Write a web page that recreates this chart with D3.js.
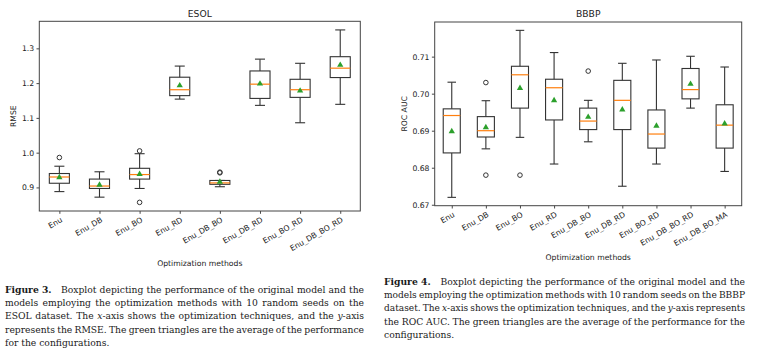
<!DOCTYPE html>
<html><head><meta charset="utf-8">
<script src="https://cdn.jsdelivr.net/npm/d3@7"></script>
<style>body{margin:0;background:#fff}svg{display:block}</style>
</head><body>
<svg id="c" width="758" height="348"></svg>
<script>
// ---------- ESOL data ----------
const esolCategories = ["Enu","Enu_DB","Enu_BO","Enu_RD","Enu_DB_BO","Enu_DB_RD","Enu_BO_RD","Enu_DB_BO_RD"];
const esolWhiskerLow  = [0.888, 0.872, 0.897, 1.154, 0.902, 1.136, 1.086, 1.139];
const esolQ1          = [0.912, 0.897, 0.924, 1.164, 0.909, 1.156, 1.159, 1.216];
const esolMedian      = [0.930, 0.904, 0.937, 1.181, 0.913, 1.197, 1.181, 1.243];
const esolQ3          = [0.940, 0.924, 0.955, 1.217, 0.920, 1.235, 1.211, 1.276];
const esolWhiskerHigh = [0.961, 0.945, 0.997, 1.249, 0.920, 1.269, 1.257, 1.353];
const esolMean        = [0.929, 0.907, 0.938, 1.193, 0.916, 1.198, 1.178, 1.252];
const esolOutliers    = [[0.986], [], [1.005, 0.857], [], [0.942, 0.944], [], [], []];
const esolTicks = [0.9, 1.0, 1.1, 1.2, 1.3];

// ---------- BBBP data ----------
const bbbpCategories = ["Enu","Enu_DB","Enu_BO","Enu_RD","Enu_DB_BO","Enu_DB_RD","Enu_BO_RD","Enu_DB_BO_RD","Enu_DB_BO_MA"];
const bbbpWhiskerLow  = [0.6720, 0.6851, 0.6882, 0.6810, 0.6870, 0.6750, 0.6810, 0.6961, 0.6790];
const bbbpQ1          = [0.6840, 0.6883, 0.6961, 0.6929, 0.6903, 0.6903, 0.6853, 0.6986, 0.6853];
const bbbpMedian      = [0.6941, 0.6900, 0.7051, 0.7016, 0.6926, 0.6982, 0.6891, 0.7011, 0.6915];
const bbbpQ3          = [0.6959, 0.6938, 0.7074, 0.7039, 0.6961, 0.7036, 0.6956, 0.7068, 0.6970];
const bbbpWhiskerHigh = [0.7031, 0.6981, 0.7171, 0.7111, 0.6982, 0.7082, 0.7091, 0.7101, 0.7072];
const bbbpMean        = [0.6898, 0.6909, 0.7015, 0.6982, 0.6937, 0.6957, 0.6913, 0.7026, 0.6919];
const bbbpOutliers    = [[], [0.703, 0.678], [0.678], [], [0.7061], [], [], [], []];
const bbbpTicks = [0.67, 0.68, 0.69, 0.70, 0.71];

// ---------- captions ----------
const caption3 = [
  [["Figure 3.", "b"], ["   Boxplot depicting the performance of the original model and the"]],
  [["models employing the optimization methods with 10 random seeds on the"]],
  [["ESOL dataset. The "], ["x", "i"], ["-axis shows the optimization techniques, and the "], ["y", "i"], ["-axis"]],
  [["represents the RMSE. The green triangles are the average of the performance"]],
  [["for the configurations."]]
];
const caption4 = [
  [["Figure 4.", "b"], ["   Boxplot depicting the performance of the original model and the"]],
  [["models employing the optimization methods with 10 random seeds on the BBBP"]],
  [["dataset. The "], ["x", "i"], ["-axis shows the optimization techniques, and the "], ["y", "i"], ["-axis represents"]],
  [["the ROC AUC. The green triangles are the average of the performance for the"]],
  [["configurations."]]
];

const svg = d3.select("#c");
const SANS = "'DejaVu Sans', sans-serif";
const LINE = "#333";

function drawChart(o) {
  const n = o.cats.length;
  const g = svg.append("g");
  const x = d3.scaleLinear().domain([0.5, n + 0.5]).range([o.x0, o.x1]);
  const all = [...o.lo, ...o.hi, ...o.outliers.flat()];
  const mn = d3.min(all), mx = d3.max(all), pad = (mx - mn) * 0.05;
  const y = d3.scaleLinear().domain([mn - pad, mx + pad]).range([o.y1, o.y0]);
  const bw = x(1.25) - x(0.75);
  const cw = bw / 2;

  const ya = g.append("g").attr("transform", `translate(${o.x0},0)`)
    .call(d3.axisLeft(y).tickValues(o.ticks).tickSize(2.8).tickPadding(2.4).tickFormat(o.fmt));
  ya.select(".domain").remove();
  ya.selectAll("line").attr("stroke", LINE).attr("stroke-width", 0.9);
  ya.selectAll("text").attr("font-family", SANS).attr("font-size", 7.7).attr("fill", "#222");

  const xa = g.append("g").attr("transform", `translate(0,${o.y1})`)
    .call(d3.axisBottom(x).tickValues(d3.range(1, n + 1)).tickSize(2.8).tickFormat(i => o.cats[i - 1]));
  xa.select(".domain").remove();
  xa.selectAll("line").attr("stroke", LINE).attr("stroke-width", 0.9);
  xa.selectAll("text").attr("font-family", SANS).attr("font-size", 7.7).attr("fill", "#222")
    .attr("text-anchor", "end").attr("x", 0).attr("y", 0).attr("dy", "0.78em")
    .attr("transform", "translate(0,5.2) rotate(-30)");

  const idx = d3.range(n);
  const bx = g.append("g").attr("fill", "none").attr("stroke", LINE).attr("stroke-width", 1.1);
  bx.selectAll(".wl").data(idx).join("line")
    .attr("x1", i => x(i + 1)).attr("x2", i => x(i + 1))
    .attr("y1", i => y(o.lo[i])).attr("y2", i => y(o.q1[i]));
  bx.selectAll(".wh").data(idx).join("line")
    .attr("x1", i => x(i + 1)).attr("x2", i => x(i + 1))
    .attr("y1", i => y(o.hi[i])).attr("y2", i => y(o.q3[i]));
  [o.lo, o.hi].forEach(arr => {
    bx.append("g").selectAll("line").data(idx).join("line")
      .attr("x1", i => x(i + 1) - cw / 2).attr("x2", i => x(i + 1) + cw / 2)
      .attr("y1", i => y(arr[i])).attr("y2", i => y(arr[i]));
  });
  bx.append("g").selectAll("rect").data(idx).join("rect")
    .attr("x", i => x(i + 1) - bw / 2).attr("width", bw)
    .attr("y", i => y(o.q3[i])).attr("height", i => Math.max(0.5, y(o.q1[i]) - y(o.q3[i])));
  g.append("g").selectAll("line").data(idx).join("line")
    .attr("x1", i => x(i + 1) - bw / 2).attr("x2", i => x(i + 1) + bw / 2)
    .attr("y1", i => y(o.med[i])).attr("y2", i => y(o.med[i]))
    .attr("stroke", "#ff7f0e").attr("stroke-width", 1.2);
  const fl = idx.flatMap(i => o.outliers[i].map(v => ({ i, v })));
  g.append("g").selectAll("circle").data(fl).join("circle")
    .attr("cx", d => x(d.i + 1)).attr("cy", d => y(d.v)).attr("r", 2.3)
    .attr("fill", "none").attr("stroke", LINE).attr("stroke-width", 1);
  const tri = d3.symbol().type(d3.symbolTriangle).size(17);
  g.append("g").selectAll("path").data(idx).join("path")
    .attr("d", tri).attr("transform", i => `translate(${x(i + 1)},${y(o.mean[i])})`)
    .attr("fill", "#2ca02c");

  g.append("rect").attr("x", o.x0).attr("y", o.y0).attr("width", o.x1 - o.x0).attr("height", o.y1 - o.y0)
    .attr("fill", "none").attr("stroke", "#444").attr("stroke-width", 1);

  const cx = (o.x0 + o.x1) / 2;
  g.append("text").attr("x", cx).attr("y", o.titleY).attr("text-anchor", "middle")
    .attr("font-family", SANS).attr("font-size", 9.2).attr("fill", "#222").text(o.title);
  g.append("text").attr("x", cx).attr("y", o.xlabelY).attr("text-anchor", "middle")
    .attr("font-family", SANS).attr("font-size", 7.7).attr("fill", "#222").text("Optimization methods");
  g.append("text").attr("transform", `translate(${o.ylabelX},${(o.y0 + o.y1) / 2}) rotate(-90)`)
    .attr("text-anchor", "middle").attr("font-family", SANS).attr("font-size", 7.7).attr("fill", "#222").text(o.ylabel);
}

drawChart({
  title: "ESOL", ylabel: "RMSE", cats: esolCategories,
  lo: esolWhiskerLow, q1: esolQ1, med: esolMedian, q3: esolQ3, hi: esolWhiskerHigh,
  mean: esolMean, outliers: esolOutliers, ticks: esolTicks, fmt: d3.format(".1f"),
  x0: 39.3, x1: 360.3, y0: 21.3, y1: 211, titleY: 16.6, xlabelY: 265.5, ylabelX: 16
});
drawChart({
  title: "BBBP", ylabel: "ROC AUC", cats: bbbpCategories,
  lo: bbbpWhiskerLow, q1: bbbpQ1, med: bbbpMedian, q3: bbbpQ3, hi: bbbpWhiskerHigh,
  mean: bbbpMean, outliers: bbbpOutliers, ticks: bbbpTicks, fmt: d3.format(".2f"),
  x0: 434.7, x1: 741.7, y0: 22, y1: 205.7, titleY: 16.6, xlabelY: 259.5, ylabelX: 407
});

// ---- justified captions, word by word ----
const CAP_FONT = "DejaVu Serif", CAP_SIZE = 9.2;
const ctx = document.createElement("canvas").getContext("2d");
function measure(text, style) {
  ctx.font = `${style === "i" ? "italic " : ""}${style === "b" ? "bold " : ""}${CAP_SIZE}px "${CAP_FONT}"`;
  return ctx.measureText(text).width;
}
function caption(lines, x0, x1, yStart, lh) {
  const g = svg.append("g");
  const target = x1 - x0;
  const spaceW = measure(" ", null);
  lines.forEach((segs, k) => {
    const words = [];
    let cur = null, spaces = 0;
    segs.forEach(([txt, st]) => {
      for (const ch of txt) {
        if (ch === " ") { if (cur) { words.push(cur); cur = null; } spaces++; continue; }
        if (!cur) { cur = { runs: [], sp: words.length ? spaces : 0 }; spaces = 0; }
        const last = cur.runs[cur.runs.length - 1];
        if (last && last.st === st) last.t += ch; else cur.runs.push({ t: ch, st });
      }
    });
    if (cur) words.push(cur);
    words.forEach(w => w.w = d3.sum(w.runs, r => measure(r.t, r.st)));
    const spUnits = d3.sum(words, w => w.sp);
    const sumW = d3.sum(words, w => w.w);
    const justify = k < lines.length - 1;
    let unit = spaceW, scale = 1;
    if (justify) {
      unit = (target - sumW) / spUnits;
      if (unit < 0.75 * spaceW) {           // too long: condense glyphs instead
        unit = 0.75 * spaceW;
        scale = target / (sumW + spUnits * unit);
      }
    }
    const t = g.append("text").attr("transform", `translate(${x0},${yStart + k * lh}) scale(${scale},1)`)
      .attr("font-family", `'${CAP_FONT}', serif`).attr("font-size", CAP_SIZE).attr("fill", "#1a1a1a");
    let xp = 0;
    words.forEach(w => {
      xp += w.sp * unit;
      w.runs.forEach((r, ri) => {
        const ts = t.append("tspan").text(r.t);
        if (ri === 0) ts.attr("x", xp);
        if (r.st === "b") ts.attr("font-weight", "bold");
        if (r.st === "i") ts.attr("font-style", "italic");
      });
      xp += w.w;
    });
  });
}
caption(caption3, 5, 364, 293, 13.2);
caption(caption4, 384, 745, 285, 13.2);
</script>
</body></html>
